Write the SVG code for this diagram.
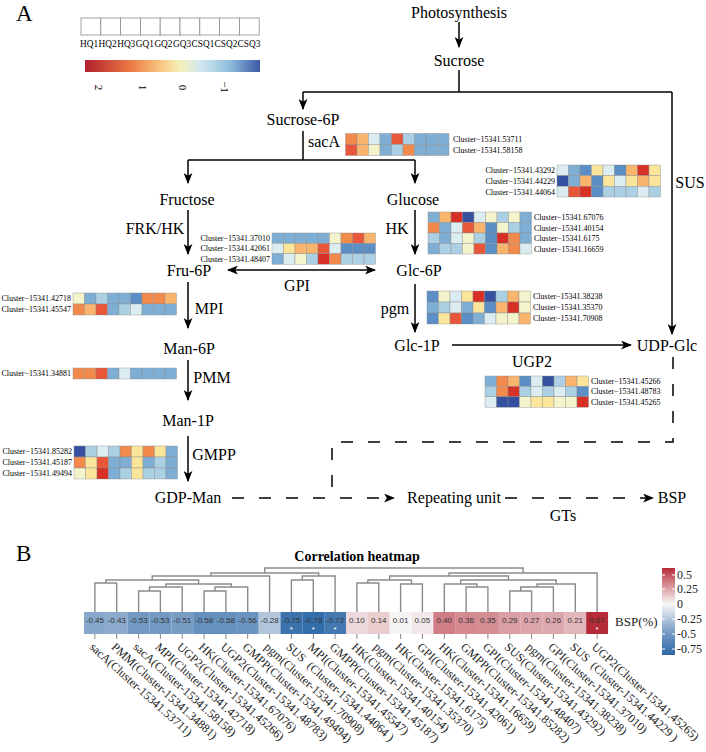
<svg xmlns="http://www.w3.org/2000/svg" width="706" height="752" viewBox="0 0 706 752">
<style>
.t{font-family:"Liberation Serif",serif;font-size:16px;text-anchor:middle;fill:#000}
.pl{font-family:"Liberation Serif",serif;font-size:23px;fill:#000}
.cl{font-family:"Liberation Serif",serif;font-size:8px;fill:#000}
.cr{font-family:"Liberation Serif",serif;font-size:8px;fill:#000;text-anchor:end}
.sm{font-family:"Liberation Serif",serif;font-size:9.3px;fill:#000}
.tk{font-family:"Liberation Serif",serif;font-size:11px;fill:#000;text-anchor:middle}
.ln{fill:none;stroke:#000;stroke-width:1.5}
.da{fill:none;stroke:#000;stroke-width:1.5;stroke-dasharray:12 15}
.hm rect{stroke:#8c8c8c;stroke-width:0.4}
.r2{fill:#d73027}.r1{fill:#e8573a}.o{fill:#f28a4c}.lo{fill:#f9b56e}.y{fill:#fbe59a}.py{fill:#f4f4cc}
.lb{fill:#dcedf2}.b1{fill:#abd0e4}.b{fill:#7eaed4}.b2{fill:#5b8ec4}.db{fill:#34509f}
.dg{fill:none;stroke:#8a8a8a;stroke-width:1.4}
.val{font-family:"Liberation Sans",sans-serif;font-size:8px;fill:#333;text-anchor:middle}
.star{font-family:"Liberation Sans",sans-serif;font-size:8px;fill:#fff;text-anchor:middle}
.bl{font-family:"Liberation Serif",serif;font-size:12px;fill:#222}
.lg{font-family:"Liberation Serif",serif;font-size:12px;fill:#222}
</style>
<defs>
<marker id="ah" viewBox="0 0 10 8" refX="9" refY="4" markerWidth="11" markerHeight="9" markerUnits="userSpaceOnUse" orient="auto-start-reverse"><path d="M0,0 L10,4 L0,8 L2.5,4 z" fill="#000"/></marker>
<linearGradient id="ga" x1="0" y1="0" x2="1" y2="0">
<stop offset="0" stop-color="#b11f2e"/><stop offset="0.26" stop-color="#ec7a45"/><stop offset="0.43" stop-color="#f8c580"/><stop offset="0.54" stop-color="#f6f0b8"/><stop offset="0.66" stop-color="#d2e9f0"/><stop offset="0.83" stop-color="#8cbcdb"/><stop offset="1" stop-color="#3c58a6"/>
</linearGradient>
<linearGradient id="gb" x1="0" y1="0" x2="0" y2="1">
<stop offset="0" stop-color="#b52c38"/><stop offset="0.24" stop-color="#dea4a9"/><stop offset="0.414" stop-color="#f7f7f7"/><stop offset="0.75" stop-color="#7399c3"/><stop offset="1" stop-color="#2c68a7"/>
</linearGradient>
</defs>
<rect width="706" height="752" fill="#fff"/>

<text class="pl" x="16" y="21">A</text>
<text class="pl" x="16" y="561">B</text>

<g id="legend-a">
<g fill="#fff" stroke="#8c8c8c" stroke-width="0.8">
<rect x="81" y="18" width="19.8" height="17"/><rect x="100.8" y="18" width="19.8" height="17"/><rect x="120.6" y="18" width="19.8" height="17"/><rect x="140.4" y="18" width="19.8" height="17"/><rect x="160.2" y="18" width="19.8" height="17"/><rect x="180" y="18" width="19.8" height="17"/><rect x="199.8" y="18" width="19.8" height="17"/><rect x="219.6" y="18" width="19.8" height="17"/><rect x="239.4" y="18" width="19.8" height="17"/>
</g>
<text class="sm" x="80" y="47">HQ1</text><text class="sm" x="98.6" y="47">HQ2</text><text class="sm" x="117.2" y="47">HQ3</text><text class="sm" x="135.8" y="47">GQ1</text><text class="sm" x="154.4" y="47">GQ2</text><text class="sm" x="173" y="47">GQ3</text><text class="sm" x="191.6" y="47">CSQ1</text><text class="sm" x="214.6" y="47">CSQ2</text><text class="sm" x="237.6" y="47">CSQ3</text>
<rect x="85" y="60" width="175" height="12" fill="url(#ga)"/>
<text class="tk" x="95" y="87.5" transform="rotate(90 95 87.5)">2</text>
<text class="tk" x="138.5" y="87.5" transform="rotate(90 138.5 87.5)">1</text>
<text class="tk" x="179" y="87.5" transform="rotate(90 179 87.5)">0</text>
<text class="tk" x="220.5" y="87" transform="rotate(90 220.5 87)">−1</text>
</g>

<g id="connectors">
<path class="ln" d="M459,22 V47" marker-end="url(#ah)"/>
<path class="ln" d="M459,70 V92"/>
<path class="ln" d="M303,92 H672"/>
<path class="ln" d="M303,92 V109" marker-end="url(#ah)"/>
<path class="ln" d="M672,92 V334" marker-end="url(#ah)"/>
<path class="ln" d="M303,131 V160"/>
<path class="ln" d="M188,160 H415"/>
<path class="ln" d="M188,160 V183" marker-end="url(#ah)"/>
<path class="ln" d="M415,160 V183" marker-end="url(#ah)"/>
<path class="ln" d="M188,210 V254" marker-end="url(#ah)"/>
<path class="ln" d="M415,210 V254" marker-end="url(#ah)"/>
<path class="ln" d="M228,270 H375" marker-start="url(#ah)" marker-end="url(#ah)"/>
<path class="ln" d="M188,282 V328" marker-end="url(#ah)"/>
<path class="ln" d="M415,284 V332" marker-end="url(#ah)"/>
<path class="ln" d="M452,345 H631" marker-end="url(#ah)"/>
<path class="ln" d="M188,360 V400" marker-end="url(#ah)"/>
<path class="ln" d="M188,436 V481" marker-end="url(#ah)"/>
<path class="da" d="M673,357 V442 H332 V498"/>
<path class="da" d="M232,498 H394" marker-end="url(#ah)"/>
<path class="da" d="M505,498 H653" marker-end="url(#ah)"/>
</g>

<g id="n-photosynthesis"><text class="t" x="459" y="17.5">Photosynthesis</text></g>
<g id="n-sucrose"><text class="t" x="459" y="65.5">Sucrose</text></g>
<g id="n-sucrose6p"><text class="t" x="303" y="125">Sucrose-6P</text></g>
<g id="l-saca"><text class="t" x="324" y="147">sacA</text></g>
<g id="l-sus"><text class="t" x="690" y="188">SUS</text></g>
<g id="n-fructose"><text class="t" x="187" y="204.5">Fructose</text></g>
<g id="n-glucose"><text class="t" x="413" y="204.5">Glucose</text></g>
<g id="l-frkhk"><text class="t" x="155" y="234">FRK/HK</text></g>
<g id="l-hk"><text class="t" x="397" y="234">HK</text></g>
<g id="n-fru6p"><text class="t" x="189" y="276">Fru-6P</text></g>
<g id="n-glc6p"><text class="t" x="419" y="276">Glc-6P</text></g>
<g id="l-gpi"><text class="t" x="297" y="291">GPI</text></g>
<g id="l-mpi"><text class="t" x="209" y="314">MPI</text></g>
<g id="l-pgm"><text class="t" x="395" y="314">pgm</text></g>
<g id="n-glc1p"><text class="t" x="417" y="351">Glc-1P</text></g>
<g id="n-udpglc"><text class="t" x="667" y="351">UDP-Glc</text></g>
<g id="n-man6p"><text class="t" x="189" y="354">Man-6P</text></g>
<g id="l-ugp2"><text class="t" x="532" y="367">UGP2</text></g>
<g id="l-pmm"><text class="t" x="212" y="383">PMM</text></g>
<g id="n-man1p"><text class="t" x="188" y="426">Man-1P</text></g>
<g id="l-gmpp"><text class="t" x="214" y="460">GMPP</text></g>
<g id="n-gdpman"><text class="t" x="188" y="503">GDP-Man</text></g>
<g id="n-repeat"><text class="t" x="454" y="503">Repeating unit</text></g>
<g id="n-bsp"><text class="t" x="672" y="503">BSP</text></g>
<g id="l-gts"><text class="t" x="563" y="521">GTs</text></g>

<g id="hm-saca">
<g class="hm" transform="translate(345.5,133.5)">
<rect x="0" y="0" width="11.5" height="11" class="o"/><rect x="11.5" y="0" width="11.5" height="11" class="lo"/><rect x="23" y="0" width="11.5" height="11" class="lb"/><rect x="34.5" y="0" width="11.5" height="11" class="b"/><rect x="46" y="0" width="11.5" height="11" class="r1"/><rect x="57.5" y="0" width="11.5" height="11" class="b1"/><rect x="69" y="0" width="11.5" height="11" class="b"/><rect x="80.5" y="0" width="11.5" height="11" class="b"/><rect x="92" y="0" width="11.5" height="11" class="b"/>
<rect x="0" y="11" width="11.5" height="11" class="r1"/><rect x="11.5" y="11" width="11.5" height="11" class="lo"/><rect x="23" y="11" width="11.5" height="11" class="py"/><rect x="34.5" y="11" width="11.5" height="11" class="b"/><rect x="46" y="11" width="11.5" height="11" class="b1"/><rect x="57.5" y="11" width="11.5" height="11" class="o"/><rect x="69" y="11" width="11.5" height="11" class="b"/><rect x="80.5" y="11" width="11.5" height="11" class="b"/><rect x="92" y="11" width="11.5" height="11" class="b"/>
</g>
<text class="cl" x="453" y="141.8">Cluster−15341.53711</text>
<text class="cl" x="453" y="152.8">Cluster−15341.58158</text>
</g>

<g id="hm-sus">
<g class="hm" transform="translate(557,165)">
<rect x="0" y="0" width="11.5" height="10.67" class="lb"/><rect x="11.5" y="0" width="11.5" height="10.67" class="b"/><rect x="23" y="0" width="11.5" height="10.67" class="b2"/><rect x="34.5" y="0" width="11.5" height="10.67" class="y"/><rect x="46" y="0" width="11.5" height="10.67" class="lb"/><rect x="57.5" y="0" width="11.5" height="10.67" class="b2"/><rect x="69" y="0" width="11.5" height="10.67" class="lo"/><rect x="80.5" y="0" width="11.5" height="10.67" class="r2"/><rect x="92" y="0" width="11.5" height="10.67" class="y"/>
<rect x="0" y="10.67" width="11.5" height="10.67" class="db"/><rect x="11.5" y="10.67" width="11.5" height="10.67" class="b"/><rect x="23" y="10.67" width="11.5" height="10.67" class="lo"/><rect x="34.5" y="10.67" width="11.5" height="10.67" class="b2"/><rect x="46" y="10.67" width="11.5" height="10.67" class="y"/><rect x="57.5" y="10.67" width="11.5" height="10.67" class="lb"/><rect x="69" y="10.67" width="11.5" height="10.67" class="y"/><rect x="80.5" y="10.67" width="11.5" height="10.67" class="lo"/><rect x="92" y="10.67" width="11.5" height="10.67" class="y"/>
<rect x="0" y="21.33" width="11.5" height="10.67" class="lb"/><rect x="11.5" y="21.33" width="11.5" height="10.67" class="r1"/><rect x="23" y="21.33" width="11.5" height="10.67" class="r2"/><rect x="34.5" y="21.33" width="11.5" height="10.67" class="b2"/><rect x="46" y="21.33" width="11.5" height="10.67" class="b1"/><rect x="57.5" y="21.33" width="11.5" height="10.67" class="b1"/><rect x="69" y="21.33" width="11.5" height="10.67" class="b1"/><rect x="80.5" y="21.33" width="11.5" height="10.67" class="lb"/><rect x="92" y="21.33" width="11.5" height="10.67" class="b1"/>
</g>
<text class="cr" x="555" y="173.2">Cluster−15341.43292</text>
<text class="cr" x="555" y="183.8">Cluster−15341.44229</text>
<text class="cr" x="555" y="194.5">Cluster−15341.44064</text>
</g>

<g id="hm-gpi">
<g class="hm" transform="translate(272,233)">
<rect x="0" y="0" width="11.5" height="10.4" class="b"/><rect x="11.5" y="0" width="11.5" height="10.4" class="b"/><rect x="23" y="0" width="11.5" height="10.4" class="b"/><rect x="34.5" y="0" width="11.5" height="10.4" class="b"/><rect x="46" y="0" width="11.5" height="10.4" class="b"/><rect x="57.5" y="0" width="11.5" height="10.4" class="py"/><rect x="69" y="0" width="11.5" height="10.4" class="o"/><rect x="80.5" y="0" width="11.5" height="10.4" class="r1"/><rect x="92" y="0" width="11.5" height="10.4" class="lo"/>
<rect x="0" y="10.4" width="11.5" height="10.4" class="lb"/><rect x="11.5" y="10.4" width="11.5" height="10.4" class="y"/><rect x="23" y="10.4" width="11.5" height="10.4" class="lo"/><rect x="34.5" y="10.4" width="11.5" height="10.4" class="lo"/><rect x="46" y="10.4" width="11.5" height="10.4" class="r1"/><rect x="57.5" y="10.4" width="11.5" height="10.4" class="lb"/><rect x="69" y="10.4" width="11.5" height="10.4" class="b2"/><rect x="80.5" y="10.4" width="11.5" height="10.4" class="b2"/><rect x="92" y="10.4" width="11.5" height="10.4" class="b2"/>
<rect x="0" y="20.8" width="11.5" height="10.4" class="b"/><rect x="11.5" y="20.8" width="11.5" height="10.4" class="lb"/><rect x="23" y="20.8" width="11.5" height="10.4" class="py"/><rect x="34.5" y="20.8" width="11.5" height="10.4" class="b1"/><rect x="46" y="20.8" width="11.5" height="10.4" class="r2"/><rect x="57.5" y="20.8" width="11.5" height="10.4" class="o"/><rect x="69" y="20.8" width="11.5" height="10.4" class="b1"/><rect x="80.5" y="20.8" width="11.5" height="10.4" class="b1"/><rect x="92" y="20.8" width="11.5" height="10.4" class="b1"/>
</g>
<text class="cr" x="270" y="241">Cluster−15341.37010</text>
<text class="cr" x="270" y="251.4">Cluster−15341.42061</text>
<text class="cr" x="270" y="261.8">Cluster−15341.48407</text>
</g>

<g id="hm-hk">
<g class="hm" transform="translate(428,212)">
<rect x="0" y="0" width="11.5" height="10.5" class="b"/><rect x="11.5" y="0" width="11.5" height="10.5" class="lo"/><rect x="23" y="0" width="11.5" height="10.5" class="r2"/><rect x="34.5" y="0" width="11.5" height="10.5" class="db"/><rect x="46" y="0" width="11.5" height="10.5" class="lb"/><rect x="57.5" y="0" width="11.5" height="10.5" class="py"/><rect x="69" y="0" width="11.5" height="10.5" class="b1"/><rect x="80.5" y="0" width="11.5" height="10.5" class="py"/><rect x="92" y="0" width="11.5" height="10.5" class="b"/>
<rect x="0" y="10.5" width="11.5" height="10.5" class="o"/><rect x="11.5" y="10.5" width="11.5" height="10.5" class="b"/><rect x="23" y="10.5" width="11.5" height="10.5" class="lb"/><rect x="34.5" y="10.5" width="11.5" height="10.5" class="r1"/><rect x="46" y="10.5" width="11.5" height="10.5" class="lo"/><rect x="57.5" y="10.5" width="11.5" height="10.5" class="b2"/><rect x="69" y="10.5" width="11.5" height="10.5" class="py"/><rect x="80.5" y="10.5" width="11.5" height="10.5" class="b1"/><rect x="92" y="10.5" width="11.5" height="10.5" class="b"/>
<rect x="0" y="21" width="11.5" height="10.5" class="b1"/><rect x="11.5" y="21" width="11.5" height="10.5" class="b"/><rect x="23" y="21" width="11.5" height="10.5" class="lb"/><rect x="34.5" y="21" width="11.5" height="10.5" class="py"/><rect x="46" y="21" width="11.5" height="10.5" class="b1"/><rect x="57.5" y="21" width="11.5" height="10.5" class="b2"/><rect x="69" y="21" width="11.5" height="10.5" class="r2"/><rect x="80.5" y="21" width="11.5" height="10.5" class="o"/><rect x="92" y="21" width="11.5" height="10.5" class="b"/>
<rect x="0" y="31.5" width="11.5" height="10.5" class="b"/><rect x="11.5" y="31.5" width="11.5" height="10.5" class="b1"/><rect x="23" y="31.5" width="11.5" height="10.5" class="b1"/><rect x="34.5" y="31.5" width="11.5" height="10.5" class="py"/><rect x="46" y="31.5" width="11.5" height="10.5" class="r1"/><rect x="57.5" y="31.5" width="11.5" height="10.5" class="b2"/><rect x="69" y="31.5" width="11.5" height="10.5" class="lo"/><rect x="80.5" y="31.5" width="11.5" height="10.5" class="o"/><rect x="92" y="31.5" width="11.5" height="10.5" class="lb"/>
</g>
<text class="cl" x="534" y="220">Cluster−15341.67076</text>
<text class="cl" x="534" y="230.5">Cluster−15341.40154</text>
<text class="cl" x="534" y="241">Cluster−15341.6175</text>
<text class="cl" x="534" y="251.5">Cluster−15341.16659</text>
</g>

<g id="hm-pgm">
<g class="hm" transform="translate(427,291)">
<rect x="0" y="0" width="11.5" height="11" class="b2"/><rect x="11.5" y="0" width="11.5" height="11" class="py"/><rect x="23" y="0" width="11.5" height="11" class="lb"/><rect x="34.5" y="0" width="11.5" height="11" class="y"/><rect x="46" y="0" width="11.5" height="11" class="r2"/><rect x="57.5" y="0" width="11.5" height="11" class="db"/><rect x="69" y="0" width="11.5" height="11" class="b1"/><rect x="80.5" y="0" width="11.5" height="11" class="lo"/><rect x="92" y="0" width="11.5" height="11" class="py"/>
<rect x="0" y="11" width="11.5" height="11" class="b"/><rect x="11.5" y="11" width="11.5" height="11" class="b1"/><rect x="23" y="11" width="11.5" height="11" class="lb"/><rect x="34.5" y="11" width="11.5" height="11" class="b"/><rect x="46" y="11" width="11.5" height="11" class="y"/><rect x="57.5" y="11" width="11.5" height="11" class="b2"/><rect x="69" y="11" width="11.5" height="11" class="lo"/><rect x="80.5" y="11" width="11.5" height="11" class="r2"/><rect x="92" y="11" width="11.5" height="11" class="py"/>
<rect x="0" y="22" width="11.5" height="11" class="b2"/><rect x="11.5" y="22" width="11.5" height="11" class="y"/><rect x="23" y="22" width="11.5" height="11" class="r1"/><rect x="34.5" y="22" width="11.5" height="11" class="b2"/><rect x="46" y="22" width="11.5" height="11" class="b"/><rect x="57.5" y="22" width="11.5" height="11" class="lb"/><rect x="69" y="22" width="11.5" height="11" class="py"/><rect x="80.5" y="22" width="11.5" height="11" class="py"/><rect x="92" y="22" width="11.5" height="11" class="lo"/>
</g>
<text class="cl" x="533" y="299.3">Cluster−15341.38238</text>
<text class="cl" x="533" y="310.3">Cluster−15341.35370</text>
<text class="cl" x="533" y="321.3">Cluster−15341.70908</text>
</g>

<g id="hm-mpi">
<g class="hm" transform="translate(73,293)">
<rect x="0" y="0" width="11.5" height="11" class="py"/><rect x="11.5" y="0" width="11.5" height="11" class="b"/><rect x="23" y="0" width="11.5" height="11" class="b1"/><rect x="34.5" y="0" width="11.5" height="11" class="b"/><rect x="46" y="0" width="11.5" height="11" class="b"/><rect x="57.5" y="0" width="11.5" height="11" class="b2"/><rect x="69" y="0" width="11.5" height="11" class="o"/><rect x="80.5" y="0" width="11.5" height="11" class="o"/><rect x="92" y="0" width="11.5" height="11" class="lo"/>
<rect x="0" y="11" width="11.5" height="11" class="o"/><rect x="11.5" y="11" width="11.5" height="11" class="lo"/><rect x="23" y="11" width="11.5" height="11" class="r1"/><rect x="34.5" y="11" width="11.5" height="11" class="b"/><rect x="46" y="11" width="11.5" height="11" class="b1"/><rect x="57.5" y="11" width="11.5" height="11" class="lb"/><rect x="69" y="11" width="11.5" height="11" class="b"/><rect x="80.5" y="11" width="11.5" height="11" class="b"/><rect x="92" y="11" width="11.5" height="11" class="b"/>
</g>
<text class="cr" x="71" y="301.3">Cluster−15341.42718</text>
<text class="cr" x="71" y="312.3">Cluster−15341.45547</text>
</g>

<g id="hm-pmm">
<g class="hm" transform="translate(73,368)">
<rect x="0" y="0" width="11.5" height="11" class="o"/><rect x="11.5" y="0" width="11.5" height="11" class="o"/><rect x="23" y="0" width="11.5" height="11" class="r1"/><rect x="34.5" y="0" width="11.5" height="11" class="b"/><rect x="46" y="0" width="11.5" height="11" class="lb"/><rect x="57.5" y="0" width="11.5" height="11" class="b"/><rect x="69" y="0" width="11.5" height="11" class="b"/><rect x="80.5" y="0" width="11.5" height="11" class="b"/><rect x="92" y="0" width="11.5" height="11" class="b"/>
</g>
<text class="cr" x="71" y="376.3">Cluster−15341.34881</text>
</g>

<g id="hm-gmpp">
<g class="hm" transform="translate(74,446)">
<rect x="0" y="0" width="11.5" height="11" class="db"/><rect x="11.5" y="0" width="11.5" height="11" class="b1"/><rect x="23" y="0" width="11.5" height="11" class="lb"/><rect x="34.5" y="0" width="11.5" height="11" class="b1"/><rect x="46" y="0" width="11.5" height="11" class="o"/><rect x="57.5" y="0" width="11.5" height="11" class="y"/><rect x="69" y="0" width="11.5" height="11" class="o"/><rect x="80.5" y="0" width="11.5" height="11" class="y"/><rect x="92" y="0" width="11.5" height="11" class="b"/>
<rect x="0" y="11" width="11.5" height="11" class="o"/><rect x="11.5" y="11" width="11.5" height="11" class="y"/><rect x="23" y="11" width="11.5" height="11" class="r1"/><rect x="34.5" y="11" width="11.5" height="11" class="b"/><rect x="46" y="11" width="11.5" height="11" class="b"/><rect x="57.5" y="11" width="11.5" height="11" class="y"/><rect x="69" y="11" width="11.5" height="11" class="b"/><rect x="80.5" y="11" width="11.5" height="11" class="b1"/><rect x="92" y="11" width="11.5" height="11" class="b"/>
<rect x="0" y="22" width="11.5" height="11" class="py"/><rect x="11.5" y="22" width="11.5" height="11" class="y"/><rect x="23" y="22" width="11.5" height="11" class="r2"/><rect x="34.5" y="22" width="11.5" height="11" class="b"/><rect x="46" y="22" width="11.5" height="11" class="b1"/><rect x="57.5" y="22" width="11.5" height="11" class="y"/><rect x="69" y="22" width="11.5" height="11" class="b1"/><rect x="80.5" y="22" width="11.5" height="11" class="b1"/><rect x="92" y="22" width="11.5" height="11" class="b"/>
</g>
<text class="cr" x="72" y="454.3">Cluster−15341.85282</text>
<text class="cr" x="72" y="465.3">Cluster−15341.45187</text>
<text class="cr" x="72" y="476.3">Cluster−15341.49494</text>
</g>

<g id="hm-ugp2">
<g class="hm" transform="translate(485,376)">
<rect x="0" y="0" width="11.5" height="10.4" class="b"/><rect x="11.5" y="0" width="11.5" height="10.4" class="o"/><rect x="23" y="0" width="11.5" height="10.4" class="lo"/><rect x="34.5" y="0" width="11.5" height="10.4" class="b2"/><rect x="46" y="0" width="11.5" height="10.4" class="lb"/><rect x="57.5" y="0" width="11.5" height="10.4" class="db"/><rect x="69" y="0" width="11.5" height="10.4" class="b1"/><rect x="80.5" y="0" width="11.5" height="10.4" class="lo"/><rect x="92" y="0" width="11.5" height="10.4" class="y"/>
<rect x="0" y="10.4" width="11.5" height="10.4" class="b1"/><rect x="11.5" y="10.4" width="11.5" height="10.4" class="o"/><rect x="23" y="10.4" width="11.5" height="10.4" class="r2"/><rect x="34.5" y="10.4" width="11.5" height="10.4" class="b1"/><rect x="46" y="10.4" width="11.5" height="10.4" class="lb"/><rect x="57.5" y="10.4" width="11.5" height="10.4" class="b1"/><rect x="69" y="10.4" width="11.5" height="10.4" class="lb"/><rect x="80.5" y="10.4" width="11.5" height="10.4" class="b1"/><rect x="92" y="10.4" width="11.5" height="10.4" class="b2"/>
<rect x="0" y="20.8" width="11.5" height="10.4" class="lb"/><rect x="11.5" y="20.8" width="11.5" height="10.4" class="db"/><rect x="23" y="20.8" width="11.5" height="10.4" class="db"/><rect x="34.5" y="20.8" width="11.5" height="10.4" class="py"/><rect x="46" y="20.8" width="11.5" height="10.4" class="y"/><rect x="57.5" y="20.8" width="11.5" height="10.4" class="y"/><rect x="69" y="20.8" width="11.5" height="10.4" class="py"/><rect x="80.5" y="20.8" width="11.5" height="10.4" class="py"/><rect x="92" y="20.8" width="11.5" height="10.4" class="r2"/>
</g>
<text class="cl" x="591" y="384">Cluster−15341.45266</text>
<text class="cl" x="591" y="394.4">Cluster−15341.48783</text>
<text class="cl" x="591" y="404.8">Cluster−15341.45265</text>
</g>

<g id="corr-title"><text x="357" y="561" font-family="Liberation Serif, serif" font-size="14" font-weight="bold" text-anchor="middle">Correlation heatmap</text></g>

<g id="dendrogram">
<path class="dg" d="M94.9,612 V583 H116.7 V612 M138.6,612 V591 H160.4 V612 M149.5,591 V587 H182.2 V612 M204.1,612 V591 H225.9 V612 M215,591 V587 H247.7 V612 M165.9,587 V584 H231.4 V587 M105.8,583 V580 H198.6 V584 M152.2,580 V576 H269.6 V612 M291.4,612 V580 H313.3 V612 M302.3,580 V576 H335.1 V612 M210.9,576 V573 H318.7 V576"/>
<path class="dg" d="M356.9,612 V583 H378.8 V612 M400.6,612 V584 H422.4 V612 M367.8,583 V580 H411.5 V584 M466.1,612 V587 H487.9 V612 M444.3,612 V584 H477 V587 M509.8,612 V591 H531.6 V612 M520.7,591 V587 H553.4 V612 M537.1,587 V584 H575.3 V612 M460.6,584 V580 H556.2 V584 M389.7,580 V576 H508.4 V580 M449.1,576 V573 H597.1 V612 M264.8,573 V568 H523.1 V573"/>
</g>

<g id="corr-cells">
<rect x="84" y="612" width="21.9" height="22" fill="#87a8cb"/>
<rect x="105.83" y="612" width="21.9" height="22" fill="#8cabcc"/>
<rect x="127.67" y="612" width="21.9" height="22" fill="#7399c3"/>
<rect x="149.5" y="612" width="21.9" height="22" fill="#7399c3"/>
<rect x="171.33" y="612" width="21.9" height="22" fill="#789dc5"/>
<rect x="193.17" y="612" width="21.9" height="22" fill="#6691be"/>
<rect x="215" y="612" width="21.9" height="22" fill="#6691be"/>
<rect x="236.83" y="612" width="21.9" height="22" fill="#6b94c0"/>
<rect x="258.67" y="612" width="21.9" height="22" fill="#b1c6db"/>
<rect x="280.5" y="612" width="21.9" height="22" fill="#3c73ad"/>
<rect x="302.33" y="612" width="21.9" height="22" fill="#346eaa"/>
<rect x="324.17" y="612" width="21.9" height="22" fill="#4378b0"/>
<rect x="346" y="612" width="21.9" height="22" fill="#edd9db"/>
<rect x="367.83" y="612" width="21.9" height="22" fill="#e9cdcf"/>
<rect x="389.67" y="612" width="21.9" height="22" fill="#f6f4f4"/>
<rect x="411.5" y="612" width="21.9" height="22" fill="#f2e8e9"/>
<rect x="433.33" y="612" width="21.9" height="22" fill="#d07e85"/>
<rect x="455.17" y="612" width="21.9" height="22" fill="#d48a90"/>
<rect x="477" y="612" width="21.9" height="22" fill="#d48d93"/>
<rect x="498.83" y="612" width="21.9" height="22" fill="#da9fa4"/>
<rect x="520.67" y="612" width="21.9" height="22" fill="#dca5aa"/>
<rect x="542.5" y="612" width="21.9" height="22" fill="#dda8ad"/>
<rect x="564.33" y="612" width="21.9" height="22" fill="#e2b7bb"/>
<rect x="586.17" y="612" width="21.9" height="22" fill="#b52c38"/>
<path d="M94.9,634V639M116.7,634V639M138.6,634V639M160.4,634V639M182.2,634V639M204.1,634V639M225.9,634V639M247.7,634V639M269.6,634V639M291.4,634V639M313.3,634V639M335.1,634V639M356.9,634V639M378.8,634V639M400.6,634V639M422.4,634V639M444.3,634V639M466.1,634V639M487.9,634V639M509.8,634V639M531.6,634V639M553.4,634V639M575.3,634V639M597.1,634V639" stroke="#888" stroke-width="1"/>
<text class="val" x="94.9" y="623">-0.45</text><text class="val" x="116.7" y="623">-0.43</text><text class="val" x="138.6" y="623">-0.53</text><text class="val" x="160.4" y="623">-0.53</text><text class="val" x="182.2" y="623">-0.51</text><text class="val" x="204.1" y="623">-0.58</text><text class="val" x="225.9" y="623">-0.58</text><text class="val" x="247.7" y="623">-0.56</text><text class="val" x="269.6" y="623">-0.28</text><text class="val" x="291.4" y="623">-0.75</text><text class="val" x="313.3" y="623">-0.78</text><text class="val" x="335.1" y="623">-0.72</text><text class="val" x="356.9" y="623">0.10</text><text class="val" x="378.8" y="623">0.14</text><text class="val" x="400.6" y="623">0.01</text><text class="val" x="422.4" y="623">0.05</text><text class="val" x="444.3" y="623">0.40</text><text class="val" x="466.1" y="623">0.36</text><text class="val" x="487.9" y="623">0.35</text><text class="val" x="509.8" y="623">0.29</text><text class="val" x="531.6" y="623">0.27</text><text class="val" x="553.4" y="623">0.26</text><text class="val" x="575.3" y="623">0.21</text><text class="val" x="597.1" y="623">0.67</text>
<text class="star" x="291.4" y="632">*</text><text class="star" x="313.3" y="632">*</text><text class="star" x="335.1" y="632">*</text><text class="star" x="597.1" y="632">*</text>
</g>

<g id="corr-labels">
<text class="bl" x="88.9" y="648" transform="rotate(42 88.9 648)">sacA(Cluster-15341.53711)</text>
<text class="bl" x="110.7" y="648" transform="rotate(42 110.7 648)">PMM(Cluster-15341.34881)</text>
<text class="bl" x="132.6" y="648" transform="rotate(42 132.6 648)">sacA(Cluster-15341.58158)</text>
<text class="bl" x="154.4" y="648" transform="rotate(42 154.4 648)">MPI(Cluster-15341.42718)</text>
<text class="bl" x="176.2" y="648" transform="rotate(42 176.2 648)">UGP2(Cluster-15341.45266)</text>
<text class="bl" x="198.1" y="648" transform="rotate(42 198.1 648)">HK(Cluster-15341.67076)</text>
<text class="bl" x="219.9" y="648" transform="rotate(42 219.9 648)">UGP2(Cluster-15341.48783)</text>
<text class="bl" x="241.7" y="648" transform="rotate(42 241.7 648)">GMPP(Cluster-15341.49494)</text>
<text class="bl" x="263.6" y="648" transform="rotate(42 263.6 648)">pgm(Cluster-15341.70908)</text>
<text class="bl" x="285.4" y="648" transform="rotate(42 285.4 648)" xml:space="preserve">SUS  (Cluster-15341.44064 )</text>
<text class="bl" x="307.3" y="648" transform="rotate(42 307.3 648)">MPI(Cluster-15341.45547)</text>
<text class="bl" x="329.1" y="648" transform="rotate(42 329.1 648)">GMPP(Cluster-15341.45187)</text>
<text class="bl" x="350.9" y="648" transform="rotate(42 350.9 648)">HK(Cluster-15341.40154)</text>
<text class="bl" x="372.8" y="648" transform="rotate(42 372.8 648)">pgm(Cluster-15341.35370)</text>
<text class="bl" x="394.6" y="648" transform="rotate(42 394.6 648)">HK(Cluster-15341.6175)</text>
<text class="bl" x="416.4" y="648" transform="rotate(42 416.4 648)">GPI(Cluster-15341.42061)</text>
<text class="bl" x="438.3" y="648" transform="rotate(42 438.3 648)">HK(Cluster-15341.16659)</text>
<text class="bl" x="460.1" y="648" transform="rotate(42 460.1 648)">GMPP(Cluster-15341.85282)</text>
<text class="bl" x="481.9" y="648" transform="rotate(42 481.9 648)">GPI(Cluster-15341.48407)</text>
<text class="bl" x="503.8" y="648" transform="rotate(42 503.8 648)">SUS(Cluster-15341.43292)</text>
<text class="bl" x="525.6" y="648" transform="rotate(42 525.6 648)">pgm(Cluster-15341.38238)</text>
<text class="bl" x="547.4" y="648" transform="rotate(42 547.4 648)">GPI(Cluster-15341.37010)</text>
<text class="bl" x="569.3" y="648" transform="rotate(42 569.3 648)" xml:space="preserve">SUS  (Cluster-15341.44229 )</text>
<text class="bl" x="591.1" y="648" transform="rotate(42 591.1 648)">UGP2(Cluster-15341.45265)</text>
</g>

<g id="bsp-label"><text x="615" y="626" font-family="Liberation Serif, serif" font-size="13" fill="#222">BSP(%)</text></g>

<g id="legend-b">
<rect x="662" y="568" width="13" height="87" fill="url(#gb)"/>
<path d="M662,575H665M672,575H675M662,589H665M672,589H675M662,604H665M672,604H675M662,619H665M672,619H675M662,634H665M672,634H675M662,649H665M672,649H675" stroke="#fff" stroke-width="1"/>
<text class="lg" x="677" y="579">0.5</text>
<text class="lg" x="677" y="593">0.25</text>
<text class="lg" x="677" y="608">0</text>
<text class="lg" x="677" y="623">-0.25</text>
<text class="lg" x="677" y="638">-0.5</text>
<text class="lg" x="677" y="653">-0.75</text>
</g>
</svg>
